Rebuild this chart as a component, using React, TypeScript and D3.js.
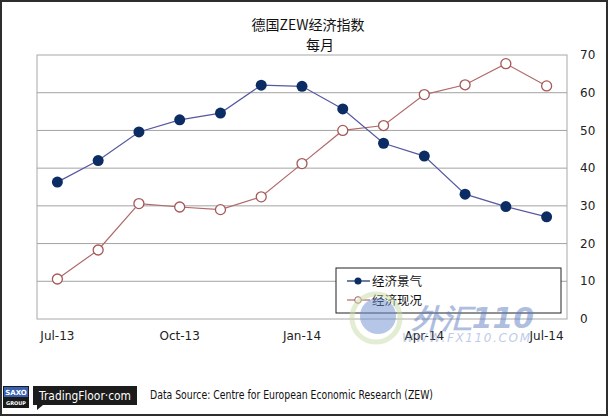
import React, { useEffect, useRef } from 'react';
import * as d3 from 'd3';

const months = ['Jul-13', 'Aug-13', 'Sep-13', 'Oct-13', 'Nov-13', 'Dec-13', 'Jan-14',
  'Feb-14', 'Mar-14', 'Apr-14', 'May-14', 'Jun-14', 'Jul-14'];
const sentiment = [36.3, 42.0, 49.6, 52.8, 54.6, 62.0, 61.7, 55.7, 46.6, 43.2, 33.1, 29.8, 27.1];
const situation = [10.6, 18.3, 30.6, 29.7, 29.0, 32.4, 41.2, 50.0, 51.3, 59.5, 62.1, 67.7, 61.8];
const xTickLabels = ['Jul-13', 'Oct-13', 'Jan-14', 'Apr-14', 'Jul-14'];
const yTicks = [0, 10, 20, 30, 40, 50, 60, 70];
const seriesNames = ['经济景气', '经济现况'];

const W = 608;
const H = 416;

export default function App() {
  const svgRef = useRef<SVGSVGElement>(null);

  useEffect(() => {
    if (!svgRef.current) return;
    const svg = d3.select(svgRef.current);
    svg.selectAll('*').remove();

    const plot = { left: 37, right: 567, top: 55, bottom: 319 };

    // фон и рамка
    svg.append('rect').attr('width', W).attr('height', H).attr('fill', '#fff');
    svg.append('rect')
      .attr('x', 1).attr('y', 1).attr('width', W - 2).attr('height', H - 2)
      .attr('fill', 'none').attr('stroke', '#2e2e2e').attr('stroke-width', 2);

    const x = d3.scalePoint<string>().domain(months).range([plot.left, plot.right]).padding(0.5);
    const y = d3.scaleLinear().domain([0, 70]).range([plot.bottom, plot.top]);

    // заголовок
    svg.append('text')
      .attr('x', 308).attr('y', 30)
      .attr('text-anchor', 'middle')
      .style('font-family', '"Noto Sans CJK SC", sans-serif')
      .style('font-size', '14px')
      .style('fill', '#111')
      .text('德国ZEW经济指数');
    svg.append('text')
      .attr('x', 320).attr('y', 50)
      .attr('text-anchor', 'middle')
      .style('font-family', '"Noto Sans CJK SC", sans-serif')
      .style('font-size', '14px')
      .style('fill', '#111')
      .text('每月');

    // сетка
    svg.selectAll('.grid')
      .data(yTicks.filter(t => t > 0 && t < 70))
      .enter()
      .append('line')
      .attr('x1', plot.left).attr('x2', plot.right)
      .attr('y1', d => y(d)).attr('y2', d => y(d))
      .style('stroke', '#a3a3a3')
      .style('stroke-width', 1);

    svg.append('rect')
      .attr('x', plot.left).attr('y', plot.top)
      .attr('width', plot.right - plot.left).attr('height', plot.bottom - plot.top)
      .attr('fill', 'none').attr('stroke', '#a8a8a8').attr('stroke-width', 1);

    // подписи осей
    svg.selectAll('.ylab')
      .data(yTicks)
      .enter()
      .append('text')
      .attr('x', 580)
      .attr('y', d => y(d))
      .attr('dy', '0.35em')
      .style('font-family', '"DejaVu Sans", sans-serif')
      .style('font-size', '12px')
      .style('fill', '#222')
      .text(d => d);

    svg.selectAll('.xlab')
      .data(xTickLabels)
      .enter()
      .append('text')
      .attr('x', d => x(d)!)
      .attr('y', 340)
      .attr('text-anchor', 'middle')
      .style('font-family', '"DejaVu Sans", sans-serif')
      .style('font-size', '12px')
      .style('fill', '#222')
      .text(d => d);

    const line = d3.line<number>()
      .x((_, i) => x(months[i])!)
      .y(d => y(d));

    // 经济现况
    svg.append('path')
      .datum(situation)
      .attr('d', line)
      .attr('fill', 'none')
      .attr('stroke', '#b06a6a')
      .attr('stroke-width', 1.2);
    svg.selectAll('.pt2')
      .data(situation)
      .enter()
      .append('circle')
      .attr('cx', (_, i) => x(months[i])!)
      .attr('cy', d => y(d))
      .attr('r', 5)
      .attr('fill', '#fff')
      .attr('stroke', '#a65858')
      .attr('stroke-width', 1.3);

    // 经济景气
    svg.append('path')
      .datum(sentiment)
      .attr('d', line)
      .attr('fill', 'none')
      .attr('stroke', '#5558a0')
      .attr('stroke-width', 1.2);
    svg.selectAll('.pt1')
      .data(sentiment)
      .enter()
      .append('circle')
      .attr('cx', (_, i) => x(months[i])!)
      .attr('cy', d => y(d))
      .attr('r', 5.5)
      .attr('fill', '#0b2d63');

    // легенда
    const legend = svg.append('g').attr('transform', 'translate(336, 268)');
    legend.append('rect')
      .attr('width', 225).attr('height', 45)
      .attr('fill', '#fff').attr('stroke', '#222').attr('stroke-width', 1);
    seriesNames.forEach((name, i) => {
      const ly = 13 + i * 19;
      const row = legend.append('g').attr('transform', `translate(0, ${ly})`);
      row.append('line')
        .attr('x1', 11).attr('x2', 34).attr('y1', 0).attr('y2', 0)
        .attr('stroke', i === 0 ? '#0b2d63' : '#b06a6a').attr('stroke-width', 1.2);
      row.append('circle')
        .attr('cx', 22).attr('cy', 0).attr('r', i === 0 ? 3.5 : 3.3)
        .attr('fill', i === 0 ? '#0b2d63' : '#fff')
        .attr('stroke', i === 0 ? 'none' : '#a65858');
      row.append('text')
        .attr('x', 36).attr('y', 0).attr('dy', '0.38em')
        .style('font-family', '"Noto Sans CJK SC", sans-serif')
        .style('font-size', '12.5px')
        .style('fill', '#111')
        .text(name);
    });

    // водяной знак
    const wm = svg.append('g').style('opacity', 0.5).style('pointer-events', 'none');
    wm.append('circle')
      .attr('cx', 376).attr('cy', 318).attr('r', 24)
      .attr('fill', 'none').attr('stroke', '#c9dca8').attr('stroke-width', 5);
    wm.append('circle')
      .attr('cx', 378).attr('cy', 316).attr('r', 18)
      .attr('fill', '#6f8fcf');
    wm.append('text')
      .attr('x', 412).attr('y', 328)
      .style('font-family', '"DejaVu Sans", sans-serif')
      .style('font-size', '28px')
      .style('font-weight', 'bold')
      .style('font-style', 'italic')
      .style('fill', '#5f7fc4')
      .attr('textLength', 122)
      .attr('lengthAdjust', 'spacingAndGlyphs')
      .text('外汇110');
    wm.append('text')
      .attr('x', 402).attr('y', 342)
      .style('font-family', '"DejaVu Sans", sans-serif')
      .style('font-size', '12px')
      .style('font-style', 'italic')
      .style('fill', '#7f9bd2')
      .attr('textLength', 128)
      .attr('lengthAdjust', 'spacing')
      .text('WWW.FX110.COM');

    // подвал
    const saxo = svg.append('g').attr('transform', 'translate(3, 386)');
    saxo.append('rect').attr('width', 26).attr('height', 22).attr('fill', '#1a1a1a');
    saxo.append('rect').attr('x', 1).attr('y', 1).attr('width', 24).attr('height', 10).attr('fill', '#3b62b0');
    saxo.append('text')
      .attr('x', 13).attr('y', 9).attr('text-anchor', 'middle')
      .style('font-family', '"DejaVu Sans", sans-serif')
      .style('font-size', '7px').style('font-weight', 'bold').style('fill', '#fff')
      .text('SAXO');
    saxo.append('text')
      .attr('x', 13).attr('y', 19).attr('text-anchor', 'middle')
      .style('font-family', '"DejaVu Sans", sans-serif')
      .style('font-size', '5px').style('font-weight', 'bold').style('fill', '#fff')
      .text('GROUP');

    const tf = svg.append('g').attr('transform', 'translate(33, 386)');
    tf.append('rect').attr('width', 104).attr('height', 19).attr('fill', '#1c1c1c');
    tf.append('path').attr('d', 'M4,19 L4,24 L10,19 Z').attr('fill', '#1c1c1c');
    tf.append('text')
      .attr('x', 52).attr('y', 14).attr('text-anchor', 'middle')
      .style('font-family', '"DejaVu Sans", sans-serif')
      .style('font-size', '11.5px').style('fill', '#fff')
      .attr('textLength', 92).attr('lengthAdjust', 'spacingAndGlyphs')
      .text('TradingFloor·com');

    svg.append('text')
      .attr('x', 150).attr('y', 399)
      .style('font-family', '"DejaVu Sans", sans-serif')
      .style('font-size', '11.5px')
      .style('fill', '#111')
      .attr('textLength', 283)
      .attr('lengthAdjust', 'spacingAndGlyphs')
      .text('Data Source: Centre  for European Economic Research (ZEW)');
  }, []);

  return (
    <svg ref={svgRef} width={W} height={H} style={{ position: 'absolute', left: 0, top: 0 }} />
  );
}
